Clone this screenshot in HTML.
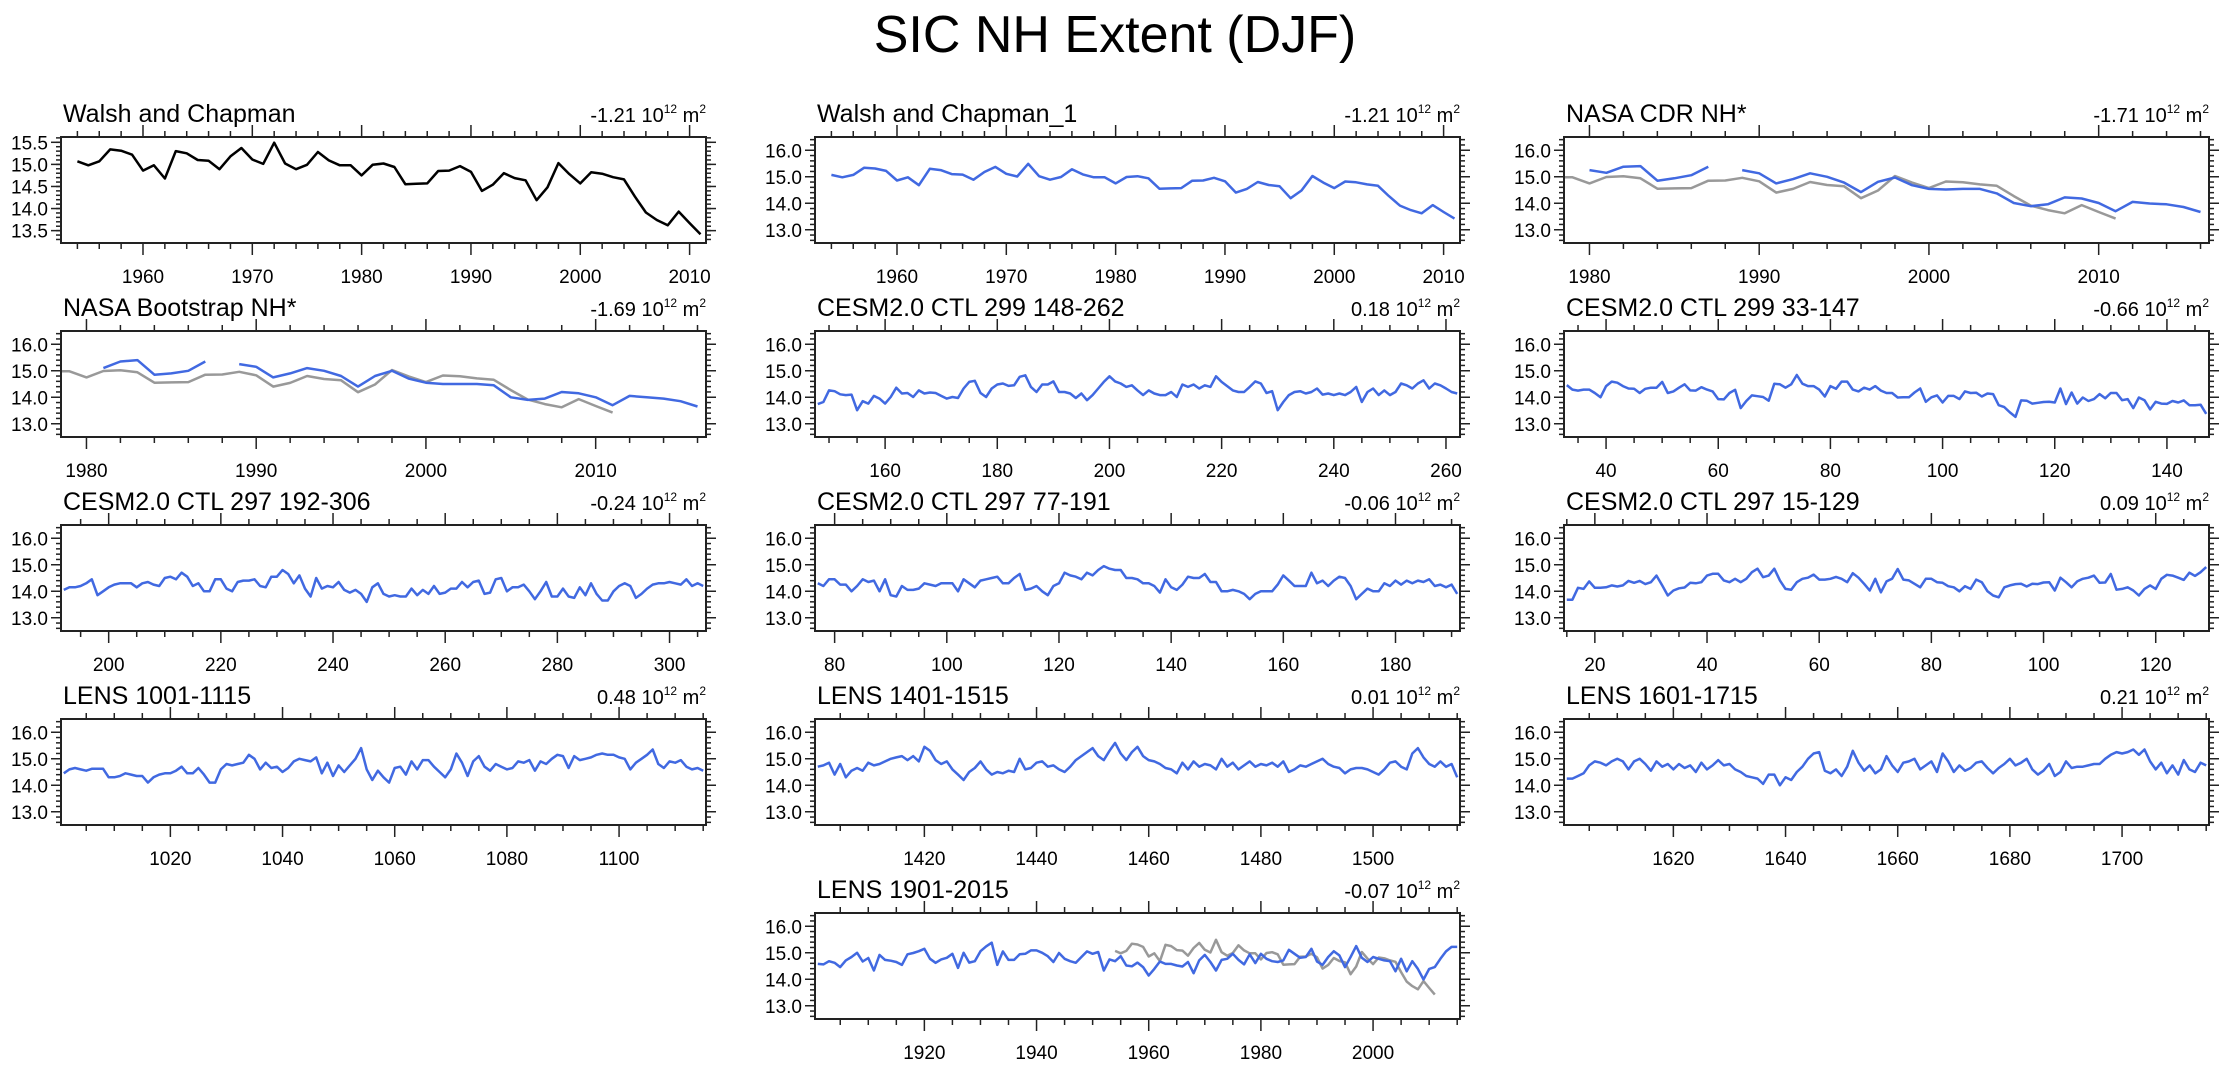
<!DOCTYPE html>
<html><head><meta charset="utf-8"><title>SIC NH Extent (DJF)</title>
<style>
html,body{margin:0;padding:0;background:#fff;}
svg{display:block;font-family:"Liberation Sans",Arial,sans-serif;}
</style></head>
<body>
<svg id="fig" xmlns="http://www.w3.org/2000/svg" width="2230" height="1067" viewBox="0 0 2230 1067">
<rect x="0" y="0" width="2230" height="1067" fill="#fff"/>
<text x="1115" y="52" font-size="52" text-anchor="middle" fill="#000">SIC NH Extent (DJF)</text>
</svg>
<script>
// ---- data arrays ----
const walshStart = 1954;
const walshValues = [15.07,14.98,15.07,15.34,15.31,15.22,14.86,14.98,14.68,15.30,15.25,15.10,15.08,14.89,15.18,15.37,15.11,15.01,15.49,15.02,14.89,14.99,15.28,15.09,14.98,14.98,14.75,14.99,15.02,14.94,14.55,14.56,14.57,14.85,14.86,14.96,14.83,14.40,14.54,14.80,14.69,14.64,14.19,14.48,15.03,14.78,14.57,14.82,14.79,14.71,14.66,14.27,13.91,13.74,13.62,13.93,13.67,13.42];
const cdrStart = 1980;
const cdrValues = [15.25,15.15,15.38,15.40,14.85,14.94,15.06,15.38,null,15.25,15.13,14.75,14.91,15.13,15.0,14.78,14.42,14.81,14.97,14.68,14.54,14.52,14.54,14.54,14.37,14.01,13.89,13.96,14.22,14.18,14.01,13.70,14.05,13.99,13.96,13.86,13.67];
const bootStart = 1981;
const bootValues = [15.1,15.35,15.4,14.85,14.9,15.0,15.35,null,15.25,15.15,14.75,14.9,15.1,15.0,14.8,14.4,14.8,15.0,14.7,14.55,14.5,14.5,14.5,14.45,14.0,13.9,13.95,14.2,14.15,14.0,13.7,14.05,14.0,13.95,13.85,13.65];
const ctl299aStart = 148;
const ctl299aValues = [13.74,13.82,14.26,14.23,14.11,14.08,14.10,13.51,13.85,13.76,14.05,13.95,13.76,14.01,14.36,14.14,14.16,14.01,14.26,14.14,14.18,14.16,14.05,13.95,14.01,13.97,14.33,14.58,14.62,14.16,14.01,14.33,14.48,14.52,14.43,14.45,14.77,14.83,14.39,14.20,14.48,14.48,14.60,14.20,14.20,14.14,13.97,14.14,13.89,14.08,14.33,14.58,14.79,14.60,14.52,14.39,14.45,14.26,14.08,14.26,14.14,14.08,14.08,14.20,14.01,14.48,14.39,14.48,14.33,14.45,14.39,14.79,14.58,14.42,14.26,14.20,14.20,14.39,14.60,14.52,14.16,14.23,13.51,13.82,14.08,14.20,14.23,14.14,14.20,14.33,14.10,14.14,14.08,14.14,14.08,14.20,14.39,13.82,14.20,14.33,14.08,14.26,14.08,14.20,14.52,14.45,14.33,14.52,14.64,14.33,14.52,14.45,14.33,14.20,14.14];
const ctl299bStart = 33;
const ctl299bValues = [14.46,14.29,14.25,14.29,14.29,14.16,14.00,14.42,14.59,14.55,14.42,14.33,14.32,14.16,14.32,14.36,14.36,14.58,14.16,14.22,14.36,14.49,14.26,14.25,14.38,14.29,14.22,13.93,13.92,14.16,14.28,13.59,13.86,14.07,14.04,14.01,13.87,14.51,14.49,14.36,14.49,14.84,14.51,14.42,14.42,14.29,14.03,14.42,14.32,14.59,14.59,14.29,14.22,14.36,14.29,14.42,14.25,14.16,14.16,13.99,14.00,14.00,14.18,14.33,13.83,14.00,14.07,13.80,14.05,14.05,13.93,14.22,14.16,14.17,14.03,14.14,14.12,13.70,13.63,13.43,13.26,13.88,13.87,13.76,13.79,13.82,13.83,13.80,14.33,13.74,14.18,13.76,13.99,13.86,13.93,14.12,13.96,14.16,14.16,13.89,13.93,13.59,13.99,13.89,13.54,13.83,13.76,13.75,13.86,13.80,13.88,13.70,13.70,13.72,13.37];
const ctl297aStart = 192;
const ctl297aValues = [14.05,14.15,14.15,14.2,14.3,14.45,13.85,14.0,14.15,14.25,14.3,14.3,14.3,14.15,14.3,14.35,14.25,14.2,14.5,14.55,14.45,14.7,14.55,14.2,14.3,14.0,14.0,14.45,14.45,14.1,14.0,14.35,14.4,14.4,14.45,14.2,14.15,14.55,14.55,14.8,14.65,14.3,14.6,14.1,13.8,14.5,14.1,14.2,14.15,14.35,14.05,13.95,14.05,13.9,13.6,14.15,14.3,13.9,13.8,13.85,13.8,13.8,14.1,13.85,14.05,13.9,14.2,13.9,13.95,14.1,14.1,14.35,14.15,14.35,14.4,13.9,13.95,14.45,14.5,14.0,14.15,14.15,14.25,14.0,13.7,14.0,14.35,13.8,13.8,14.1,13.8,13.75,14.15,13.85,14.3,13.9,13.65,13.65,14.0,14.2,14.3,14.2,13.75,13.9,14.1,14.25,14.3,14.3,14.35,14.3,14.25,14.45,14.2,14.3,14.2];
const ctl297bStart = 77;
const ctl297bValues = [14.3,14.2,14.45,14.45,14.25,14.25,14.0,14.2,14.45,14.35,14.4,14.0,14.45,13.85,13.8,14.2,14.05,14.05,14.1,14.3,14.25,14.2,14.3,14.3,14.3,14.0,14.45,14.3,14.15,14.4,14.45,14.5,14.55,14.3,14.3,14.5,14.65,14.05,14.1,14.2,14.0,13.85,14.2,14.3,14.7,14.6,14.55,14.45,14.7,14.6,14.8,14.95,14.85,14.8,14.8,14.5,14.5,14.45,14.3,14.3,14.2,13.95,14.45,14.15,14.05,14.25,14.55,14.5,14.5,14.65,14.35,14.35,14.0,14.0,14.05,14.0,13.9,13.7,13.9,14.0,14.0,14.0,14.25,14.6,14.4,14.2,14.2,14.2,14.7,14.3,14.4,14.2,14.4,14.55,14.5,14.2,13.7,13.9,14.1,14.0,14.0,14.3,14.2,14.4,14.25,14.4,14.3,14.4,14.35,14.45,14.2,14.25,14.15,14.25,13.9];
const ctl297cStart = 15;
const ctl297cValues = [13.68,13.68,14.13,14.09,14.37,14.13,14.13,14.15,14.22,14.18,14.22,14.39,14.32,14.39,14.27,14.34,14.59,14.22,13.84,14.03,14.11,14.14,14.32,14.30,14.34,14.59,14.66,14.66,14.41,14.34,14.47,14.34,14.47,14.72,14.85,14.53,14.59,14.85,14.41,14.09,14.06,14.34,14.47,14.51,14.63,14.44,14.44,14.47,14.54,14.47,14.34,14.68,14.51,14.28,14.03,14.47,13.96,14.37,14.47,14.84,14.44,14.41,14.28,14.15,14.47,14.47,14.34,14.32,14.19,14.15,14.00,14.19,14.09,14.44,14.34,14.00,13.84,13.77,14.15,14.22,14.27,14.28,14.18,14.28,14.27,14.33,14.34,14.03,14.51,14.34,14.15,14.37,14.47,14.51,14.59,14.32,14.33,14.65,14.06,14.09,14.15,14.03,13.84,14.09,14.22,14.09,14.47,14.62,14.59,14.51,14.43,14.70,14.58,14.72,14.91];
const lens1001Start = 1001;
const lens1001Values = [14.45,14.6,14.65,14.6,14.55,14.62,14.62,14.62,14.3,14.3,14.35,14.45,14.4,14.35,14.35,14.1,14.3,14.4,14.45,14.45,14.55,14.7,14.45,14.45,14.65,14.4,14.1,14.1,14.6,14.8,14.75,14.8,14.85,15.15,15.0,14.6,14.85,14.65,14.7,14.5,14.65,14.9,15.0,14.95,14.9,15.05,14.45,14.85,14.35,14.75,14.5,14.75,15.0,15.4,14.6,14.2,14.55,14.3,14.1,14.65,14.7,14.4,14.9,14.6,14.95,14.95,14.7,14.5,14.3,14.6,15.2,14.85,14.35,14.9,15.1,14.7,14.55,14.8,14.7,14.6,14.65,14.9,14.85,14.95,14.55,14.9,14.8,15.0,15.15,15.1,14.65,15.1,14.95,15.0,15.05,15.15,15.2,15.15,15.15,15.05,15.0,14.6,14.85,15.0,15.15,15.35,14.8,14.65,14.9,14.85,14.95,14.7,14.6,14.65,14.55];
const lens1401Start = 1401;
const lens1401Values = [14.7,14.75,14.85,14.4,14.8,14.3,14.55,14.65,14.55,14.85,14.75,14.8,14.9,15.0,15.05,15.1,14.95,15.1,14.9,15.45,15.3,14.95,14.8,14.9,14.6,14.4,14.2,14.5,14.65,14.9,14.6,14.4,14.5,14.45,14.55,14.5,15.0,14.6,14.65,14.85,14.9,14.7,14.75,14.6,14.5,14.7,14.95,15.1,15.25,15.4,15.1,14.95,15.3,15.6,15.2,14.95,15.25,15.45,15.1,14.95,14.9,14.8,14.65,14.6,14.45,14.85,14.6,14.9,14.7,14.8,14.75,14.6,15.0,14.7,14.85,14.6,14.75,14.9,14.7,14.8,14.75,14.85,14.7,14.9,14.5,14.6,14.75,14.7,14.8,14.9,15.0,14.8,14.7,14.65,14.45,14.6,14.65,14.65,14.6,14.5,14.4,14.6,14.85,14.9,14.7,14.6,15.2,15.4,15.05,14.8,14.7,14.9,14.7,14.8,14.3];
const lens1601Start = 1601;
const lens1601Values = [14.25,14.25,14.35,14.45,14.75,14.9,14.85,14.75,14.9,15.0,14.9,14.6,14.9,15.0,14.8,14.55,14.9,14.7,14.8,14.6,14.8,14.65,14.75,14.5,14.85,14.6,14.75,14.95,14.75,14.8,14.6,14.5,14.35,14.3,14.25,14.05,14.4,14.4,14.0,14.3,14.2,14.5,14.7,15.0,15.2,15.25,14.55,14.45,14.6,14.35,14.7,15.3,14.85,14.55,14.75,14.45,14.6,15.1,14.75,14.5,14.85,14.9,15.0,14.6,14.75,14.9,14.5,15.2,14.9,14.5,14.75,14.55,14.65,14.85,14.9,14.65,14.45,14.65,14.8,15.0,14.75,14.85,15.0,14.6,14.4,14.55,14.8,14.35,14.5,14.9,14.65,14.7,14.7,14.75,14.8,14.8,15.0,15.15,15.25,15.2,15.25,15.35,15.15,15.35,14.9,14.6,14.85,14.45,14.75,14.4,14.95,14.6,14.5,14.85,14.75];
const lens1901Start = 1901;
const lens1901Values = [14.58,14.56,14.68,14.62,14.46,14.71,14.84,15.00,14.67,14.80,14.33,14.92,14.73,14.70,14.65,14.54,14.94,14.99,15.06,15.15,14.77,14.62,14.75,14.81,14.96,14.43,15.00,14.63,14.68,15.06,15.24,15.38,14.54,15.05,14.73,14.73,14.94,14.96,15.09,15.09,15.00,14.87,14.65,14.99,14.77,14.68,14.62,14.84,15.05,14.96,15.03,14.33,14.75,14.68,14.87,14.52,14.49,14.63,14.46,14.14,14.39,14.67,14.58,14.58,14.52,14.48,14.65,14.23,14.71,14.92,14.65,14.33,14.73,14.77,14.96,14.73,14.56,14.94,14.61,14.96,14.77,14.68,14.65,14.71,15.11,14.96,14.81,14.84,15.15,14.67,14.54,14.84,15.06,14.90,14.46,14.84,15.25,14.81,14.65,14.84,14.77,14.71,14.68,14.30,14.77,14.30,14.68,14.39,13.99,14.39,14.46,14.77,15.05,15.22,15.22];
const trendLabels = ["-1.21","-1.21","-1.71","-1.69","0.18","-0.66","-0.24","-0.06","0.09","0.48","0.01","0.21","-0.07"];
const panelTitles = ["Walsh and Chapman","Walsh and Chapman_1","NASA CDR NH*","NASA Bootstrap NH*","CESM2.0 CTL 299 148-262","CESM2.0 CTL 299 33-147","CESM2.0 CTL 297 192-306","CESM2.0 CTL 297 77-191","CESM2.0 CTL 297 15-129","LENS 1001-1115","LENS 1401-1515","LENS 1601-1715","LENS 1901-2015"];

// ---- layout ----
const NS = "http://www.w3.org/2000/svg";
const svg = document.getElementById("fig");
const COLX = [61, 815, 1564], W = 645;
const ROWY = [137, 331, 525, 719, 913], H = 106;
const BLUE = "#4169e1", GRAY = "#999999";

function mk(tag, attrs, parent) {
  const e = document.createElementNS(NS, tag);
  for (const k in attrs) e.setAttribute(k, attrs[k]);
  (parent || svg).appendChild(e);
  return e;
}

const panels = [
  {c:0,r:0,x0:1952.5,x1:2011.5,y0:13.22,y1:15.62,xmaj:10,xmin:2,xfirst:1960,ymaj:[13.5,14.0,14.5,15.0,15.5],ymin:0.1,
    series:[{s:walshStart,v:walshValues,col:"#000"}]},
  {c:1,r:0,x0:1952.5,x1:2011.5,y0:12.5,y1:16.5,xmaj:10,xmin:2,xfirst:1960,
    series:[{s:walshStart,v:walshValues,col:BLUE}]},
  {c:2,r:0,x0:1978.5,x1:2016.5,y0:12.5,y1:16.5,xmaj:10,xmin:2,xfirst:1980,
    series:[{s:walshStart,v:walshValues,col:GRAY},{s:cdrStart,v:cdrValues,col:BLUE}]},
  {c:0,r:1,x0:1978.5,x1:2016.5,y0:12.5,y1:16.5,xmaj:10,xmin:2,xfirst:1980,
    series:[{s:walshStart,v:walshValues,col:GRAY},{s:bootStart,v:bootValues,col:BLUE}]},
  {c:1,r:1,x0:147.5,x1:262.5,y0:12.5,y1:16.5,xmaj:20,xmin:5,xfirst:160,
    series:[{s:ctl299aStart,v:ctl299aValues,col:BLUE}]},
  {c:2,r:1,x0:32.5,x1:147.5,y0:12.5,y1:16.5,xmaj:20,xmin:5,xfirst:40,
    series:[{s:ctl299bStart,v:ctl299bValues,col:BLUE}]},
  {c:0,r:2,x0:191.5,x1:306.5,y0:12.5,y1:16.5,xmaj:20,xmin:5,xfirst:200,
    series:[{s:ctl297aStart,v:ctl297aValues,col:BLUE}]},
  {c:1,r:2,x0:76.5,x1:191.5,y0:12.5,y1:16.5,xmaj:20,xmin:5,xfirst:80,
    series:[{s:ctl297bStart,v:ctl297bValues,col:BLUE}]},
  {c:2,r:2,x0:14.5,x1:129.5,y0:12.5,y1:16.5,xmaj:20,xmin:5,xfirst:20,
    series:[{s:ctl297cStart,v:ctl297cValues,col:BLUE}]},
  {c:0,r:3,x0:1000.5,x1:1115.5,y0:12.5,y1:16.5,xmaj:20,xmin:5,xfirst:1020,
    series:[{s:lens1001Start,v:lens1001Values,col:BLUE}]},
  {c:1,r:3,x0:1400.5,x1:1515.5,y0:12.5,y1:16.5,xmaj:20,xmin:5,xfirst:1420,
    series:[{s:lens1401Start,v:lens1401Values,col:BLUE}]},
  {c:2,r:3,x0:1600.5,x1:1715.5,y0:12.5,y1:16.5,xmaj:20,xmin:5,xfirst:1620,
    series:[{s:lens1601Start,v:lens1601Values,col:BLUE}]},
  {c:1,r:4,x0:1900.5,x1:2015.5,y0:12.5,y1:16.5,xmaj:20,xmin:5,xfirst:1920,
    series:[{s:walshStart,v:walshValues,col:GRAY},{s:lens1901Start,v:lens1901Values,col:BLUE}]}
];

const defs = mk("defs", {});
panels.forEach((p, i) => {
  const L = COLX[p.c], T = ROWY[p.r];
  const sx = v => L + (v - p.x0) / (p.x1 - p.x0) * W;
  const sy = v => T + (p.y1 - v) / (p.y1 - p.y0) * H;
  const g = mk("g", {});
  
  

  const cp = mk("clipPath", {id: "clip" + i}, defs);
  mk("rect", {x: L, y: T, width: W, height: H}, cp);

  const t = mk("text", {x: L + 2, y: T - 15, "font-size": 25, fill: "#000"}, g);
  t.textContent = panelTitles[i];
  
  
  const r = mk("text", {x: L + W, y: T - 15, "font-size": 20, "text-anchor": "end", fill: "#000"}, g);
  
  
  const a = mk("tspan", {}, r); a.textContent = trendLabels[i] + " 10";
  const b = mk("tspan", {dy: -9, "font-size": 12}, r); b.textContent = "12";
  const c = mk("tspan", {dy: 9}, r); c.textContent = " m";
  const d = mk("tspan", {dy: -9, "font-size": 12}, r); d.textContent = "2";

  const tk = mk("g", {stroke: "#222", "stroke-width": 1.5}, g);
  
  
  const eps = 1e-6;
  for (let v = Math.ceil(p.x0 / p.xmin) * p.xmin; v <= p.x1 + eps; v += p.xmin) {
    const X = sx(v);
    const isMaj = ((v - p.xfirst) % p.xmaj + p.xmaj) % p.xmaj === 0;
    const len = isMaj ? 12 : 6;
    mk("line", {x1: X, y1: T + H, x2: X, y2: T + H + len}, tk);
    mk("line", {x1: X, y1: T, x2: X, y2: T - len}, tk);
    if (isMaj) {
      const lt = mk("text", {x: X, y: T + H + 40, "font-size": 19, "text-anchor": "middle", fill: "#000", stroke: "none"}, g);
      lt.textContent = String(v);
      
      
    }
  }
  const ymaj = p.ymaj || [13, 14, 15, 16];
  const ymn = p.ymin || 0.2;
  for (let k = Math.ceil(p.y0 / ymn - eps); k * ymn <= p.y1 + eps; k++) {
    const v = k * ymn;
    const Y = sy(v);
    mk("line", {x1: L, y1: Y, x2: L - 5, y2: Y}, tk);
    mk("line", {x1: L + W, y1: Y, x2: L + W + 5, y2: Y}, tk);
  }
  ymaj.forEach(v => {
    const Y = sy(v);
    mk("line", {x1: L, y1: Y, x2: L - 10, y2: Y}, tk);
    mk("line", {x1: L + W, y1: Y, x2: L + W + 10, y2: Y}, tk);
    const lt = mk("text", {x: L - 13, y: Y + 7, "font-size": 19, "text-anchor": "end", fill: "#000", stroke: "none"}, g);
    lt.textContent = v.toFixed(1);
    
    
  });

  p.series.forEach(s => {
    let dStr = "", pen = false;
    s.v.forEach((val, j) => {
      if (val === null) { pen = false; return; }
      const X = sx(s.s + j), Y = sy(val);
      dStr += (pen ? "L" : "M") + X.toFixed(1) + "," + Y.toFixed(1);
      pen = true;
    });
    const path = mk("path", {d: dStr, fill: "none", stroke: s.col, "stroke-width": 2.5, "stroke-linejoin": "round", "clip-path": "url(#clip" + i + ")"}, g);
    
    
  });

  const fr = mk("rect", {x: L, y: T, width: W, height: H, fill: "none", stroke: "#222", "stroke-width": 2}, g);
  
  
});
</script>
</body></html>
